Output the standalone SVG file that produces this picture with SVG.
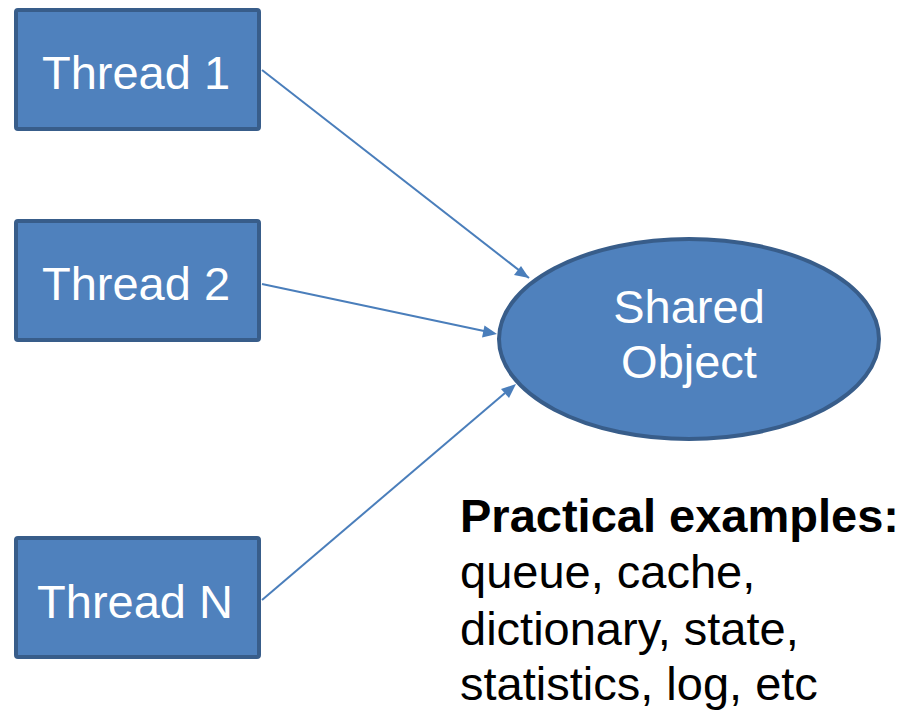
<svg xmlns="http://www.w3.org/2000/svg" width="910" height="712" viewBox="0 0 910 712">
<style>
.node{fill:#4f81bd;stroke:#385d8a;stroke-width:4}
.lbl{font-family:"Liberation Sans",Arial,sans-serif;font-size:47px;fill:#ffffff;text-anchor:middle}
.txt{font-family:"Liberation Sans",Arial,sans-serif;font-size:47px;fill:#000000}
.edge{stroke:#4a7ebb;stroke-width:2;fill:none;marker-end:url(#ah)}
</style>
<defs>
<marker id="ah" viewBox="0 0 10 10" refX="9" refY="5" markerWidth="9" markerHeight="9" markerUnits="userSpaceOnUse" orient="auto">
<path d="M0,0 L10,5 L0,10 z" fill="#4a7ebb"/>
</marker>
</defs>
<rect width="910" height="712" fill="#ffffff"/>
<g id="connectors">
<line class="edge" x1="262" y1="70" x2="529" y2="278" style="marker-end:none"/>
<path d="M529,278 l-15,-3 l7,-9 z" fill="#4a7ebb"/>
<line x1="262" y1="284" x2="484" y2="331" stroke="#4a7ebb" stroke-width="2"/>
<path d="M497,334 l-15,3.5 l2.5,-12 z" fill="#4a7ebb"/>
<line x1="262" y1="600" x2="505" y2="393" stroke="#4a7ebb" stroke-width="2"/>
<path d="M516,384 l-7,14 l-8,-9 z" fill="#4a7ebb"/>
</g>
<g id="thread1">
<rect class="node" x="16" y="10" width="243" height="119" rx="2"/>
<text class="lbl" x="136" y="89">Thread 1</text>
</g>
<g id="thread2">
<rect class="node" x="16" y="221" width="243" height="119" rx="2"/>
<text class="lbl" x="136" y="300">Thread 2</text>
</g>
<g id="threadN">
<rect class="node" x="16" y="538" width="243" height="119" rx="2"/>
<text class="lbl" x="135" y="618">Thread N</text>
</g>
<g id="shared">
<ellipse class="node" cx="689" cy="339" rx="190" ry="100"/>
<text class="lbl" x="689" y="323">Shared</text>
<text class="lbl" x="689" y="378">Object</text>
</g>
<g id="examples">
<text class="txt" x="460" y="532" font-weight="bold">Practical examples:</text>
<text class="txt" x="460" y="588">queue, cache,</text>
<text class="txt" x="460" y="645">dictionary, state,</text>
<text class="txt" x="460" y="700">statistics, log, etc</text>
</g>
</svg>
